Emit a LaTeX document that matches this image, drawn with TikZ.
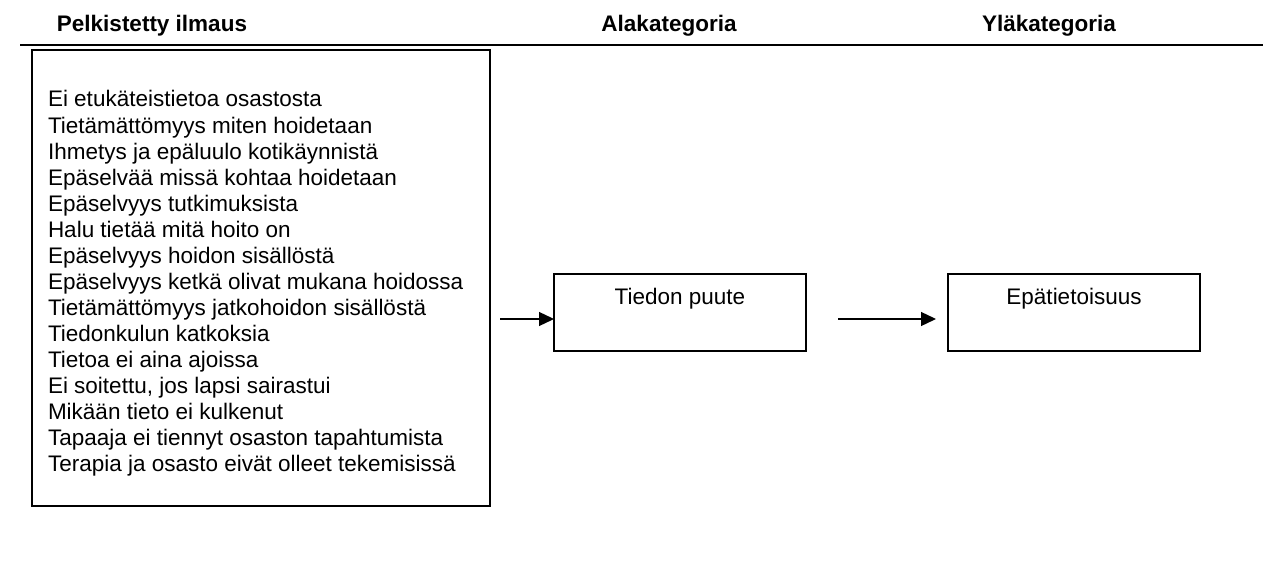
\documentclass[tikz,border=0pt]{standalone}
\usepackage{fontspec}
\setmainfont{Liberation Sans}
\usetikzlibrary{arrows.meta}
\begin{document}
\begin{tikzpicture}[x=1pt,y=-1pt,
  every node/.style={inner sep=0pt,outer sep=0pt,font=\fontsize{22.5pt}{26pt}\selectfont},
  head/.style={anchor=base,font=\fontsize{22.5pt}{26pt}\selectfont\bfseries},
  catbox/.style={draw,line width=1.6pt,anchor=north west,minimum width=252pt,minimum height=77pt},
  line/.style={anchor=base west},
  conn/.style={line width=1.3pt,-{Triangle[length=15pt,width=14pt]}}]
\useasboundingbox (0,0) rectangle (1263,572);
% column headings and rule
\node[head] (h1) at (152,32) {Pelkistetty ilmaus};
\node[head] (h2) at (669,32) {Alakategoria};
\node[head] (h3) at (1049,32) {Yläkategoria};
\coordinate (r1) at (20,45);
\coordinate (r2) at (1263,45);
\draw[line width=2.2pt] (r1) -- (r2);
% list of reduced expressions
\node[draw,line width=1.6pt,anchor=north west,minimum width=458pt,minimum height=456pt] (list) at (32,50) {};
\foreach \t [count=\i] in {
  Ei etukäteistietoa osastosta,
  Tietämättömyys miten hoidetaan,
  Ihmetys ja epäluulo kotikäynnistä,
  Epäselvää missä kohtaa hoidetaan,
  Epäselvyys tutkimuksista,
  Halu tietää mitä hoito on,
  Epäselvyys hoidon sisällöstä,
  Epäselvyys ketkä olivat mukana hoidossa,
  Tietämättömyys jatkohoidon sisällöstä,
  Tiedonkulun katkoksia,
  Tietoa ei aina ajoissa,
  {Ei soitettu, jos lapsi sairastui},
  Mikään tieto ei kulkenut,
  Tapaaja ei tiennyt osaston tapahtumista,
  Terapia ja osasto eivät olleet tekemisissä}
  \node[line] (l\i) at (48,{107+(\i-1)*26.07}) {\t};
% sub- and main category boxes
\node[catbox] (sub) at (554,274) {};
\node[anchor=base] (subt) at (680,304) {Tiedon puute};
\node[catbox] (main) at (948,274) {};
\node[anchor=base] (maint) at (1074,304) {Epätietoisuus};
% connectors
\coordinate (a1) at (500,319);
\coordinate (a2) at (838,319);
\coordinate (a3) at (936,319);
\draw[conn] (a1) -- (a1 -| sub.west);
\draw[conn] (a2) -- (a3);
\end{tikzpicture}
\end{document}
